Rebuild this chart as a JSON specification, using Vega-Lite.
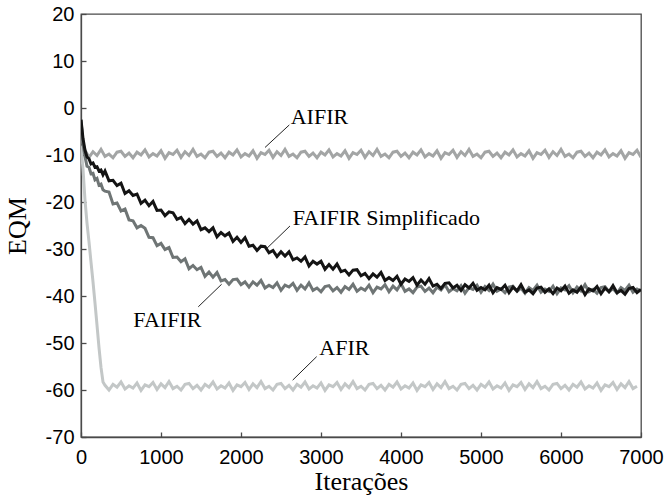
{
"$schema":"https://vega.github.io/schema/vega-lite/v6.json",
"width":560,"height":423,
"autosize":{"type":"none"},
"padding":{"left":81,"top":14,"right":23,"bottom":58},
"background":"white",
"config":{"view":{"stroke":"#4a4a4a","strokeWidth":1.3},
"axis":{"domainColor":"#4a4a4a","domainWidth":1.3,"tickColor":"#4a4a4a","tickWidth":1.3,"grid":false,"labelFlush":false,"labelOverlap":false,"labelColor":"#000","titleColor":"#000","labelFont":"Liberation Sans","labelFontSize":20,"titleFont":"Liberation Serif","titleFontSize":26,"titleFontWeight":"normal"}},
"datasets":{
"notes":[
{"txt":"AIFIR","t":2604,"v":-3.6,"t2":2300,"v2":-8.4,"lt":2621,"lv":-1.85},
{"txt":"FAIFIR Simplificado","t":2612,"v":-25.1,"t2":2321,"v2":-29.9,"lt":2646,"lv":-23.5},
{"txt":"FAIFIR","t":1466,"v":-42.3,"t2":1758,"v2":-37.5,"lt":654,"lv":-45.1},
{"txt":"AFIR","t":2946,"v":-52.9,"t2":2646,"v2":-57.9,"lt":2979,"lv":-51.1}
],
"curves":[
{"s":"AIFIR","t":0,"v":-3.0},{"s":"AIFIR","t":25,"v":-7.5},
{"s":"AIFIR","t":50,"v":-9.0},{"s":"AIFIR","t":100,"v":-10.5},{"s":"AIFIR","t":150,"v":-9.3},{"s":"AIFIR","t":200,"v":-10.1},{"s":"AIFIR","t":250,"v":-8.8},{"s":"AIFIR","t":300,"v":-10.3},{"s":"AIFIR","t":350,"v":-9.8},{"s":"AIFIR","t":400,"v":-10.6},{"s":"AIFIR","t":450,"v":-9.4},{"s":"AIFIR","t":500,"v":-9.2},{"s":"AIFIR","t":550,"v":-10.3},{"s":"AIFIR","t":600,"v":-9.6},{"s":"AIFIR","t":650,"v":-10.6},{"s":"AIFIR","t":700,"v":-9.4},{"s":"AIFIR","t":750,"v":-10.0},{"s":"AIFIR","t":800,"v":-8.9},{"s":"AIFIR","t":850,"v":-10.4},{"s":"AIFIR","t":900,"v":-9.7},{"s":"AIFIR","t":950,"v":-10.2},{"s":"AIFIR","t":1000,"v":-9.1},{"s":"AIFIR","t":1050,"v":-10.7},{"s":"AIFIR","t":1100,"v":-9.5},{"s":"AIFIR","t":1150,"v":-9.9},
{"s":"AIFIR","t":1200,"v":-9.0},{"s":"AIFIR","t":1250,"v":-10.5},{"s":"AIFIR","t":1300,"v":-9.3},{"s":"AIFIR","t":1350,"v":-10.1},{"s":"AIFIR","t":1400,"v":-8.8},{"s":"AIFIR","t":1450,"v":-10.3},{"s":"AIFIR","t":1500,"v":-9.8},{"s":"AIFIR","t":1550,"v":-10.6},{"s":"AIFIR","t":1600,"v":-9.4},{"s":"AIFIR","t":1650,"v":-9.2},{"s":"AIFIR","t":1700,"v":-10.3},{"s":"AIFIR","t":1750,"v":-9.6},{"s":"AIFIR","t":1800,"v":-10.6},{"s":"AIFIR","t":1850,"v":-9.4},{"s":"AIFIR","t":1900,"v":-10.0},{"s":"AIFIR","t":1950,"v":-8.9},{"s":"AIFIR","t":2000,"v":-10.4},{"s":"AIFIR","t":2050,"v":-9.7},{"s":"AIFIR","t":2100,"v":-10.2},{"s":"AIFIR","t":2150,"v":-9.1},{"s":"AIFIR","t":2200,"v":-10.7},{"s":"AIFIR","t":2250,"v":-9.5},{"s":"AIFIR","t":2300,"v":-9.9},
{"s":"AIFIR","t":2350,"v":-9.0},{"s":"AIFIR","t":2400,"v":-10.5},{"s":"AIFIR","t":2450,"v":-9.3},{"s":"AIFIR","t":2500,"v":-10.1},{"s":"AIFIR","t":2550,"v":-8.8},{"s":"AIFIR","t":2600,"v":-10.3},{"s":"AIFIR","t":2650,"v":-9.8},{"s":"AIFIR","t":2700,"v":-10.6},{"s":"AIFIR","t":2750,"v":-9.4},{"s":"AIFIR","t":2800,"v":-9.2},{"s":"AIFIR","t":2850,"v":-10.3},{"s":"AIFIR","t":2900,"v":-9.6},{"s":"AIFIR","t":2950,"v":-10.6},{"s":"AIFIR","t":3000,"v":-9.4},{"s":"AIFIR","t":3050,"v":-10.0},{"s":"AIFIR","t":3100,"v":-8.9},{"s":"AIFIR","t":3150,"v":-10.4},{"s":"AIFIR","t":3200,"v":-9.7},{"s":"AIFIR","t":3250,"v":-10.2},{"s":"AIFIR","t":3300,"v":-9.1},{"s":"AIFIR","t":3350,"v":-10.7},{"s":"AIFIR","t":3400,"v":-9.5},{"s":"AIFIR","t":3450,"v":-9.9},
{"s":"AIFIR","t":3500,"v":-9.0},{"s":"AIFIR","t":3550,"v":-10.5},{"s":"AIFIR","t":3600,"v":-9.3},{"s":"AIFIR","t":3650,"v":-10.1},{"s":"AIFIR","t":3700,"v":-8.8},{"s":"AIFIR","t":3750,"v":-10.3},{"s":"AIFIR","t":3800,"v":-9.8},{"s":"AIFIR","t":3850,"v":-10.6},{"s":"AIFIR","t":3900,"v":-9.4},{"s":"AIFIR","t":3950,"v":-9.2},{"s":"AIFIR","t":4000,"v":-10.3},{"s":"AIFIR","t":4050,"v":-9.6},{"s":"AIFIR","t":4100,"v":-10.6},{"s":"AIFIR","t":4150,"v":-9.4},{"s":"AIFIR","t":4200,"v":-10.0},{"s":"AIFIR","t":4250,"v":-8.9},{"s":"AIFIR","t":4300,"v":-10.4},{"s":"AIFIR","t":4350,"v":-9.7},{"s":"AIFIR","t":4400,"v":-10.2},{"s":"AIFIR","t":4450,"v":-9.1},{"s":"AIFIR","t":4500,"v":-10.7},{"s":"AIFIR","t":4550,"v":-9.5},{"s":"AIFIR","t":4600,"v":-9.9},
{"s":"AIFIR","t":4650,"v":-9.0},{"s":"AIFIR","t":4700,"v":-10.5},{"s":"AIFIR","t":4750,"v":-9.3},{"s":"AIFIR","t":4800,"v":-10.1},{"s":"AIFIR","t":4850,"v":-8.8},{"s":"AIFIR","t":4900,"v":-10.3},{"s":"AIFIR","t":4950,"v":-9.8},{"s":"AIFIR","t":5000,"v":-10.6},{"s":"AIFIR","t":5050,"v":-9.4},{"s":"AIFIR","t":5100,"v":-9.2},{"s":"AIFIR","t":5150,"v":-10.3},{"s":"AIFIR","t":5200,"v":-9.6},{"s":"AIFIR","t":5250,"v":-10.6},{"s":"AIFIR","t":5300,"v":-9.4},{"s":"AIFIR","t":5350,"v":-10.0},{"s":"AIFIR","t":5400,"v":-8.9},{"s":"AIFIR","t":5450,"v":-10.4},{"s":"AIFIR","t":5500,"v":-9.7},{"s":"AIFIR","t":5550,"v":-10.2},{"s":"AIFIR","t":5600,"v":-9.1},{"s":"AIFIR","t":5650,"v":-10.7},{"s":"AIFIR","t":5700,"v":-9.5},{"s":"AIFIR","t":5750,"v":-9.9},
{"s":"AIFIR","t":5800,"v":-9.0},{"s":"AIFIR","t":5850,"v":-10.5},{"s":"AIFIR","t":5900,"v":-9.3},{"s":"AIFIR","t":5950,"v":-10.1},{"s":"AIFIR","t":6000,"v":-8.8},{"s":"AIFIR","t":6050,"v":-10.3},{"s":"AIFIR","t":6100,"v":-9.8},{"s":"AIFIR","t":6150,"v":-10.6},{"s":"AIFIR","t":6200,"v":-9.4},{"s":"AIFIR","t":6250,"v":-9.2},{"s":"AIFIR","t":6300,"v":-10.3},{"s":"AIFIR","t":6350,"v":-9.6},{"s":"AIFIR","t":6400,"v":-10.6},{"s":"AIFIR","t":6450,"v":-9.4},{"s":"AIFIR","t":6500,"v":-10.0},{"s":"AIFIR","t":6550,"v":-8.9},{"s":"AIFIR","t":6600,"v":-10.4},{"s":"AIFIR","t":6650,"v":-9.7},{"s":"AIFIR","t":6700,"v":-10.2},{"s":"AIFIR","t":6750,"v":-9.1},{"s":"AIFIR","t":6800,"v":-10.7},{"s":"AIFIR","t":6850,"v":-9.5},{"s":"AIFIR","t":6900,"v":-9.9},
{"s":"AIFIR","t":6950,"v":-9.0},{"s":"AIFIR","t":7000,"v":-10.5},

{"s":"AFIR","t":0,"v":-8.0},{"s":"AFIR","t":25,"v":-13.0},{"s":"AFIR","t":50,"v":-19.6},{"s":"AFIR","t":75,"v":-24.5},{"s":"AFIR","t":100,"v":-28.5},{"s":"AFIR","t":125,"v":-32.8},{"s":"AFIR","t":150,"v":-37.0},{"s":"AFIR","t":175,"v":-41.5},{"s":"AFIR","t":200,"v":-46.2},{"s":"AFIR","t":225,"v":-51.0},{"s":"AFIR","t":250,"v":-55.2},{"s":"AFIR","t":275,"v":-58.3},
{"s":"AFIR","t":300,"v":-59.0},{"s":"AFIR","t":350,"v":-60.0},{"s":"AFIR","t":400,"v":-58.8},{"s":"AFIR","t":450,"v":-59.4},{"s":"AFIR","t":500,"v":-58.3},{"s":"AFIR","t":550,"v":-59.8},{"s":"AFIR","t":600,"v":-59.1},{"s":"AFIR","t":650,"v":-59.6},{"s":"AFIR","t":700,"v":-58.5},{"s":"AFIR","t":750,"v":-60.1},{"s":"AFIR","t":800,"v":-58.9},{"s":"AFIR","t":850,"v":-59.3},{"s":"AFIR","t":900,"v":-58.4},{"s":"AFIR","t":950,"v":-59.9},{"s":"AFIR","t":1000,"v":-58.7},{"s":"AFIR","t":1050,"v":-59.5},{"s":"AFIR","t":1100,"v":-58.2},{"s":"AFIR","t":1150,"v":-59.7},{"s":"AFIR","t":1200,"v":-59.2},{"s":"AFIR","t":1250,"v":-60.0},{"s":"AFIR","t":1300,"v":-58.8},
{"s":"AFIR","t":1350,"v":-58.6},{"s":"AFIR","t":1400,"v":-59.7},{"s":"AFIR","t":1450,"v":-59.0},{"s":"AFIR","t":1500,"v":-60.0},{"s":"AFIR","t":1550,"v":-58.8},{"s":"AFIR","t":1600,"v":-59.4},{"s":"AFIR","t":1650,"v":-58.3},{"s":"AFIR","t":1700,"v":-59.8},{"s":"AFIR","t":1750,"v":-59.1},{"s":"AFIR","t":1800,"v":-59.6},{"s":"AFIR","t":1850,"v":-58.5},{"s":"AFIR","t":1900,"v":-60.1},{"s":"AFIR","t":1950,"v":-58.9},{"s":"AFIR","t":2000,"v":-59.3},{"s":"AFIR","t":2050,"v":-58.4},{"s":"AFIR","t":2100,"v":-59.9},{"s":"AFIR","t":2150,"v":-58.7},{"s":"AFIR","t":2200,"v":-59.5},{"s":"AFIR","t":2250,"v":-58.2},{"s":"AFIR","t":2300,"v":-59.7},{"s":"AFIR","t":2350,"v":-59.2},{"s":"AFIR","t":2400,"v":-60.0},{"s":"AFIR","t":2450,"v":-58.8},
{"s":"AFIR","t":2500,"v":-58.6},{"s":"AFIR","t":2550,"v":-59.7},{"s":"AFIR","t":2600,"v":-59.0},{"s":"AFIR","t":2650,"v":-60.0},{"s":"AFIR","t":2700,"v":-58.8},{"s":"AFIR","t":2750,"v":-59.4},{"s":"AFIR","t":2800,"v":-58.3},{"s":"AFIR","t":2850,"v":-59.8},{"s":"AFIR","t":2900,"v":-59.1},{"s":"AFIR","t":2950,"v":-59.6},{"s":"AFIR","t":3000,"v":-58.5},{"s":"AFIR","t":3050,"v":-60.1},{"s":"AFIR","t":3100,"v":-58.9},{"s":"AFIR","t":3150,"v":-59.3},{"s":"AFIR","t":3200,"v":-58.4},{"s":"AFIR","t":3250,"v":-59.9},{"s":"AFIR","t":3300,"v":-58.7},{"s":"AFIR","t":3350,"v":-59.5},{"s":"AFIR","t":3400,"v":-58.2},{"s":"AFIR","t":3450,"v":-59.7},{"s":"AFIR","t":3500,"v":-59.2},{"s":"AFIR","t":3550,"v":-60.0},{"s":"AFIR","t":3600,"v":-58.8},
{"s":"AFIR","t":3650,"v":-58.6},{"s":"AFIR","t":3700,"v":-59.7},{"s":"AFIR","t":3750,"v":-59.0},{"s":"AFIR","t":3800,"v":-60.0},{"s":"AFIR","t":3850,"v":-58.8},{"s":"AFIR","t":3900,"v":-59.4},{"s":"AFIR","t":3950,"v":-58.3},{"s":"AFIR","t":4000,"v":-59.8},{"s":"AFIR","t":4050,"v":-59.1},{"s":"AFIR","t":4100,"v":-59.6},{"s":"AFIR","t":4150,"v":-58.5},{"s":"AFIR","t":4200,"v":-60.1},{"s":"AFIR","t":4250,"v":-58.9},{"s":"AFIR","t":4300,"v":-59.3},{"s":"AFIR","t":4350,"v":-58.4},{"s":"AFIR","t":4400,"v":-59.9},{"s":"AFIR","t":4450,"v":-58.7},{"s":"AFIR","t":4500,"v":-59.5},{"s":"AFIR","t":4550,"v":-58.2},{"s":"AFIR","t":4600,"v":-59.7},{"s":"AFIR","t":4650,"v":-59.2},{"s":"AFIR","t":4700,"v":-60.0},{"s":"AFIR","t":4750,"v":-58.8},
{"s":"AFIR","t":4800,"v":-58.6},{"s":"AFIR","t":4850,"v":-59.7},{"s":"AFIR","t":4900,"v":-59.0},{"s":"AFIR","t":4950,"v":-60.0},{"s":"AFIR","t":5000,"v":-58.8},{"s":"AFIR","t":5050,"v":-59.4},{"s":"AFIR","t":5100,"v":-58.3},{"s":"AFIR","t":5150,"v":-59.8},{"s":"AFIR","t":5200,"v":-59.1},{"s":"AFIR","t":5250,"v":-59.6},{"s":"AFIR","t":5300,"v":-58.5},{"s":"AFIR","t":5350,"v":-60.1},{"s":"AFIR","t":5400,"v":-58.9},{"s":"AFIR","t":5450,"v":-59.3},{"s":"AFIR","t":5500,"v":-58.4},{"s":"AFIR","t":5550,"v":-59.9},{"s":"AFIR","t":5600,"v":-58.7},{"s":"AFIR","t":5650,"v":-59.5},{"s":"AFIR","t":5700,"v":-58.2},{"s":"AFIR","t":5750,"v":-59.7},{"s":"AFIR","t":5800,"v":-59.2},{"s":"AFIR","t":5850,"v":-60.0},{"s":"AFIR","t":5900,"v":-58.8},
{"s":"AFIR","t":5950,"v":-58.6},{"s":"AFIR","t":6000,"v":-59.7},{"s":"AFIR","t":6050,"v":-59.0},{"s":"AFIR","t":6100,"v":-60.0},{"s":"AFIR","t":6150,"v":-58.8},{"s":"AFIR","t":6200,"v":-59.4},{"s":"AFIR","t":6250,"v":-58.3},{"s":"AFIR","t":6300,"v":-59.8},{"s":"AFIR","t":6350,"v":-59.1},{"s":"AFIR","t":6400,"v":-59.6},{"s":"AFIR","t":6450,"v":-58.5},{"s":"AFIR","t":6500,"v":-60.1},{"s":"AFIR","t":6550,"v":-58.9},{"s":"AFIR","t":6600,"v":-59.3},{"s":"AFIR","t":6650,"v":-58.4},{"s":"AFIR","t":6700,"v":-59.9},{"s":"AFIR","t":6750,"v":-58.7},{"s":"AFIR","t":6800,"v":-59.5},{"s":"AFIR","t":6850,"v":-58.2},{"s":"AFIR","t":6900,"v":-59.7},{"s":"AFIR","t":6950,"v":-59.2},

{"s":"FAIFIR","t":0,"v":-2.5},{"s":"FAIFIR","t":25,"v":-7.8},{"s":"FAIFIR","t":50,"v":-10.3},{"s":"FAIFIR","t":75,"v":-12.4},{"s":"FAIFIR","t":100,"v":-12.6},{"s":"FAIFIR","t":125,"v":-14.0},{"s":"FAIFIR","t":150,"v":-13.9},{"s":"FAIFIR","t":175,"v":-15.3},{"s":"FAIFIR","t":200,"v":-15.0},{"s":"FAIFIR","t":225,"v":-16.4},{"s":"FAIFIR","t":250,"v":-16.2},{"s":"FAIFIR","t":275,"v":-17.4},
{"s":"FAIFIR","t":300,"v":-17.7},{"s":"FAIFIR","t":350,"v":-17.9},{"s":"FAIFIR","t":400,"v":-20.4},{"s":"FAIFIR","t":450,"v":-20.2},{"s":"FAIFIR","t":500,"v":-21.9},{"s":"FAIFIR","t":550,"v":-21.5},{"s":"FAIFIR","t":600,"v":-23.8},{"s":"FAIFIR","t":650,"v":-24.0},{"s":"FAIFIR","t":700,"v":-25.5},{"s":"FAIFIR","t":750,"v":-25.0},{"s":"FAIFIR","t":800,"v":-25.6},{"s":"FAIFIR","t":850,"v":-27.5},{"s":"FAIFIR","t":900,"v":-27.6},{"s":"FAIFIR","t":950,"v":-29.3},{"s":"FAIFIR","t":1000,"v":-28.8},{"s":"FAIFIR","t":1050,"v":-30.1},{"s":"FAIFIR","t":1100,"v":-29.7},{"s":"FAIFIR","t":1150,"v":-31.8},{"s":"FAIFIR","t":1200,"v":-31.7},{"s":"FAIFIR","t":1250,"v":-32.7},{"s":"FAIFIR","t":1300,"v":-32.1},{"s":"FAIFIR","t":1350,"v":-34.2},{"s":"FAIFIR","t":1400,"v":-33.5},{"s":"FAIFIR","t":1450,"v":-34.4},{"s":"FAIFIR","t":1500,"v":-33.9},{"s":"FAIFIR","t":1550,"v":-35.8},{"s":"FAIFIR","t":1600,"v":-34.9},{"s":"FAIFIR","t":1650,"v":-36.0},{"s":"FAIFIR","t":1700,"v":-35.0},{"s":"FAIFIR","t":1750,"v":-36.8},{"s":"FAIFIR","t":1800,"v":-36.5},{"s":"FAIFIR","t":1850,"v":-37.5},{"s":"FAIFIR","t":1900,"v":-36.5},{"s":"FAIFIR","t":1950,"v":-36.4},{"s":"FAIFIR","t":2000,"v":-37.6},{"s":"FAIFIR","t":2050,"v":-37.0},{"s":"FAIFIR","t":2100,"v":-38.1},{"s":"FAIFIR","t":2150,"v":-37.0},{"s":"FAIFIR","t":2200,"v":-37.7},{"s":"FAIFIR","t":2250,"v":-36.7},{"s":"FAIFIR","t":2300,"v":-38.3},{"s":"FAIFIR","t":2350,"v":-37.7},{"s":"FAIFIR","t":2400,"v":-38.2},{"s":"FAIFIR","t":2450,"v":-37.2},{"s":"FAIFIR","t":2500,"v":-38.8},{"s":"FAIFIR","t":2550,"v":-37.7},{"s":"FAIFIR","t":2600,"v":-38.1},{"s":"FAIFIR","t":2650,"v":-37.3},{"s":"FAIFIR","t":2700,"v":-38.8},{"s":"FAIFIR","t":2750,"v":-37.7},{"s":"FAIFIR","t":2800,"v":-38.5},{"s":"FAIFIR","t":2850,"v":-37.2},{"s":"FAIFIR","t":2900,"v":-38.8},{"s":"FAIFIR","t":2950,"v":-38.3},{"s":"FAIFIR","t":3000,"v":-39.1},{"s":"FAIFIR","t":3050,"v":-38.0},{"s":"FAIFIR","t":3100,"v":-37.8},{"s":"FAIFIR","t":3150,"v":-38.9},{"s":"FAIFIR","t":3200,"v":-38.2},{"s":"FAIFIR","t":3250,"v":-39.2},{"s":"FAIFIR","t":3300,"v":-38.0},{"s":"FAIFIR","t":3350,"v":-38.6},{"s":"FAIFIR","t":3400,"v":-37.5},{"s":"FAIFIR","t":3450,"v":-39.0},{"s":"FAIFIR","t":3500,"v":-38.3},{"s":"FAIFIR","t":3550,"v":-38.8},{"s":"FAIFIR","t":3600,"v":-37.7},{"s":"FAIFIR","t":3650,"v":-39.3},{"s":"FAIFIR","t":3700,"v":-38.1},{"s":"FAIFIR","t":3750,"v":-38.5},{"s":"FAIFIR","t":3800,"v":-37.6},{"s":"FAIFIR","t":3850,"v":-39.1},{"s":"FAIFIR","t":3900,"v":-37.9},{"s":"FAIFIR","t":3950,"v":-38.7},{"s":"FAIFIR","t":4000,"v":-37.4},{"s":"FAIFIR","t":4050,"v":-39.0},{"s":"FAIFIR","t":4100,"v":-38.5},{"s":"FAIFIR","t":4150,"v":-39.3},{"s":"FAIFIR","t":4200,"v":-38.1},{"s":"FAIFIR","t":4250,"v":-37.9},{"s":"FAIFIR","t":4300,"v":-39.0},{"s":"FAIFIR","t":4350,"v":-38.3},{"s":"FAIFIR","t":4400,"v":-39.3},{"s":"FAIFIR","t":4450,"v":-38.1},{"s":"FAIFIR","t":4500,"v":-38.7},{"s":"FAIFIR","t":4550,"v":-37.6},{"s":"FAIFIR","t":4600,"v":-39.1},{"s":"FAIFIR","t":4650,"v":-38.4},{"s":"FAIFIR","t":4700,"v":-38.9},{"s":"FAIFIR","t":4750,"v":-37.8},{"s":"FAIFIR","t":4800,"v":-39.4},{"s":"FAIFIR","t":4850,"v":-38.2},{"s":"FAIFIR","t":4900,"v":-38.6},{"s":"FAIFIR","t":4950,"v":-37.7},{"s":"FAIFIR","t":5000,"v":-39.2},{"s":"FAIFIR","t":5050,"v":-38.0},{"s":"FAIFIR","t":5100,"v":-38.8},{"s":"FAIFIR","t":5150,"v":-37.5},{"s":"FAIFIR","t":5200,"v":-39.0},{"s":"FAIFIR","t":5250,"v":-38.5},{"s":"FAIFIR","t":5300,"v":-39.3},{"s":"FAIFIR","t":5350,"v":-38.1},{"s":"FAIFIR","t":5400,"v":-37.9},{"s":"FAIFIR","t":5450,"v":-39.0},{"s":"FAIFIR","t":5500,"v":-38.3},{"s":"FAIFIR","t":5550,"v":-39.4},{"s":"FAIFIR","t":5600,"v":-38.2},{"s":"FAIFIR","t":5650,"v":-38.8},{"s":"FAIFIR","t":5700,"v":-37.7},{"s":"FAIFIR","t":5750,"v":-39.2},{"s":"FAIFIR","t":5800,"v":-38.5},{"s":"FAIFIR","t":5850,"v":-39.0},{"s":"FAIFIR","t":5900,"v":-37.9},{"s":"FAIFIR","t":5950,"v":-39.5},{"s":"FAIFIR","t":6000,"v":-38.3},{"s":"FAIFIR","t":6050,"v":-38.7},{"s":"FAIFIR","t":6100,"v":-37.8},{"s":"FAIFIR","t":6150,"v":-39.3},{"s":"FAIFIR","t":6200,"v":-38.1},{"s":"FAIFIR","t":6250,"v":-38.9},{"s":"FAIFIR","t":6300,"v":-37.6},{"s":"FAIFIR","t":6350,"v":-39.1},{"s":"FAIFIR","t":6400,"v":-38.6},{"s":"FAIFIR","t":6450,"v":-39.4},{"s":"FAIFIR","t":6500,"v":-38.2},{"s":"FAIFIR","t":6550,"v":-38.0},{"s":"FAIFIR","t":6600,"v":-39.1},{"s":"FAIFIR","t":6650,"v":-38.4},{"s":"FAIFIR","t":6700,"v":-39.4},{"s":"FAIFIR","t":6750,"v":-38.2},{"s":"FAIFIR","t":6800,"v":-38.8},{"s":"FAIFIR","t":6850,"v":-37.7},{"s":"FAIFIR","t":6900,"v":-39.2},{"s":"FAIFIR","t":6950,"v":-38.5},{"s":"FAIFIR","t":7000,"v":-39.0},

{"s":"FAIFIRS","t":0,"v":-2.5},{"s":"FAIFIRS","t":25,"v":-6.5},{"s":"FAIFIRS","t":50,"v":-9.0},{"s":"FAIFIRS","t":75,"v":-10.4},{"s":"FAIFIRS","t":100,"v":-10.8},{"s":"FAIFIRS","t":125,"v":-11.9},{"s":"FAIFIRS","t":150,"v":-11.7},{"s":"FAIFIRS","t":175,"v":-12.6},{"s":"FAIFIRS","t":200,"v":-12.5},{"s":"FAIFIRS","t":225,"v":-13.4},{"s":"FAIFIRS","t":250,"v":-13.2},{"s":"FAIFIRS","t":275,"v":-14.2},
{"s":"FAIFIRS","t":300,"v":-13.4},{"s":"FAIFIRS","t":350,"v":-15.5},{"s":"FAIFIRS","t":400,"v":-15.4},{"s":"FAIFIRS","t":450,"v":-16.5},{"s":"FAIFIRS","t":500,"v":-16.0},{"s":"FAIFIRS","t":550,"v":-18.2},{"s":"FAIFIRS","t":600,"v":-17.6},{"s":"FAIFIRS","t":650,"v":-18.6},{"s":"FAIFIRS","t":700,"v":-18.3},{"s":"FAIFIRS","t":750,"v":-20.3},{"s":"FAIFIRS","t":800,"v":-19.6},{"s":"FAIFIRS","t":850,"v":-20.8},{"s":"FAIFIRS","t":900,"v":-19.9},{"s":"FAIFIRS","t":950,"v":-21.8},{"s":"FAIFIRS","t":1000,"v":-21.7},{"s":"FAIFIRS","t":1050,"v":-22.9},{"s":"FAIFIRS","t":1100,"v":-22.1},{"s":"FAIFIRS","t":1150,"v":-22.3},{"s":"FAIFIRS","t":1200,"v":-23.7},{"s":"FAIFIRS","t":1250,"v":-23.3},{"s":"FAIFIRS","t":1300,"v":-24.6},{"s":"FAIFIRS","t":1350,"v":-23.7},{"s":"FAIFIRS","t":1400,"v":-24.7},{"s":"FAIFIRS","t":1450,"v":-24.0},{"s":"FAIFIRS","t":1500,"v":-25.9},{"s":"FAIFIRS","t":1550,"v":-25.5},{"s":"FAIFIRS","t":1600,"v":-26.3},{"s":"FAIFIRS","t":1650,"v":-25.5},{"s":"FAIFIRS","t":1700,"v":-27.4},{"s":"FAIFIRS","t":1750,"v":-26.5},{"s":"FAIFIRS","t":1800,"v":-27.2},{"s":"FAIFIRS","t":1850,"v":-26.6},{"s":"FAIFIRS","t":1900,"v":-28.4},{"s":"FAIFIRS","t":1950,"v":-27.5},{"s":"FAIFIRS","t":2000,"v":-28.6},{"s":"FAIFIRS","t":2050,"v":-27.6},{"s":"FAIFIRS","t":2100,"v":-29.4},{"s":"FAIFIRS","t":2150,"v":-29.2},{"s":"FAIFIRS","t":2200,"v":-30.3},{"s":"FAIFIRS","t":2250,"v":-29.4},{"s":"FAIFIRS","t":2300,"v":-29.5},{"s":"FAIFIRS","t":2350,"v":-30.8},{"s":"FAIFIRS","t":2400,"v":-30.3},{"s":"FAIFIRS","t":2450,"v":-31.6},{"s":"FAIFIRS","t":2500,"v":-30.6},{"s":"FAIFIRS","t":2550,"v":-31.5},{"s":"FAIFIRS","t":2600,"v":-30.6},{"s":"FAIFIRS","t":2650,"v":-32.3},{"s":"FAIFIRS","t":2700,"v":-31.9},{"s":"FAIFIRS","t":2750,"v":-32.6},{"s":"FAIFIRS","t":2800,"v":-31.7},{"s":"FAIFIRS","t":2850,"v":-33.6},{"s":"FAIFIRS","t":2900,"v":-32.6},{"s":"FAIFIRS","t":2950,"v":-33.2},{"s":"FAIFIRS","t":3000,"v":-32.6},{"s":"FAIFIRS","t":3050,"v":-34.3},{"s":"FAIFIRS","t":3100,"v":-33.3},{"s":"FAIFIRS","t":3150,"v":-34.3},{"s":"FAIFIRS","t":3200,"v":-33.2},{"s":"FAIFIRS","t":3250,"v":-34.8},{"s":"FAIFIRS","t":3300,"v":-34.5},{"s":"FAIFIRS","t":3350,"v":-35.5},{"s":"FAIFIRS","t":3400,"v":-34.5},{"s":"FAIFIRS","t":3450,"v":-34.4},{"s":"FAIFIRS","t":3500,"v":-35.7},{"s":"FAIFIRS","t":3550,"v":-35.2},{"s":"FAIFIRS","t":3600,"v":-36.3},{"s":"FAIFIRS","t":3650,"v":-35.3},{"s":"FAIFIRS","t":3700,"v":-36.0},{"s":"FAIFIRS","t":3750,"v":-35.0},{"s":"FAIFIRS","t":3800,"v":-36.7},{"s":"FAIFIRS","t":3850,"v":-36.1},{"s":"FAIFIRS","t":3900,"v":-36.7},{"s":"FAIFIRS","t":3950,"v":-35.8},{"s":"FAIFIRS","t":4000,"v":-37.5},{"s":"FAIFIRS","t":4050,"v":-36.4},{"s":"FAIFIRS","t":4100,"v":-36.9},{"s":"FAIFIRS","t":4150,"v":-36.1},{"s":"FAIFIRS","t":4200,"v":-37.7},{"s":"FAIFIRS","t":4250,"v":-36.6},{"s":"FAIFIRS","t":4300,"v":-37.5},{"s":"FAIFIRS","t":4350,"v":-36.3},{"s":"FAIFIRS","t":4400,"v":-37.9},{"s":"FAIFIRS","t":4450,"v":-37.5},{"s":"FAIFIRS","t":4500,"v":-38.4},{"s":"FAIFIRS","t":4550,"v":-37.3},{"s":"FAIFIRS","t":4600,"v":-37.2},{"s":"FAIFIRS","t":4650,"v":-38.3},{"s":"FAIFIRS","t":4700,"v":-37.7},{"s":"FAIFIRS","t":4750,"v":-38.8},{"s":"FAIFIRS","t":4800,"v":-37.6},{"s":"FAIFIRS","t":4850,"v":-38.3},{"s":"FAIFIRS","t":4900,"v":-37.3},{"s":"FAIFIRS","t":4950,"v":-38.8},{"s":"FAIFIRS","t":5000,"v":-38.2},{"s":"FAIFIRS","t":5050,"v":-38.7},{"s":"FAIFIRS","t":5100,"v":-37.7},{"s":"FAIFIRS","t":5150,"v":-39.3},{"s":"FAIFIRS","t":5200,"v":-38.2},{"s":"FAIFIRS","t":5250,"v":-38.6},{"s":"FAIFIRS","t":5300,"v":-37.7},{"s":"FAIFIRS","t":5350,"v":-39.3},{"s":"FAIFIRS","t":5400,"v":-38.1},{"s":"FAIFIRS","t":5450,"v":-38.9},{"s":"FAIFIRS","t":5500,"v":-37.6},{"s":"FAIFIRS","t":5550,"v":-39.2},{"s":"FAIFIRS","t":5600,"v":-38.7},{"s":"FAIFIRS","t":5650,"v":-39.5},{"s":"FAIFIRS","t":5700,"v":-38.3},{"s":"FAIFIRS","t":5750,"v":-38.1},{"s":"FAIFIRS","t":5800,"v":-39.2},{"s":"FAIFIRS","t":5850,"v":-38.5},{"s":"FAIFIRS","t":5900,"v":-39.5},{"s":"FAIFIRS","t":5950,"v":-38.3},{"s":"FAIFIRS","t":6000,"v":-38.9},{"s":"FAIFIRS","t":6050,"v":-37.9},{"s":"FAIFIRS","t":6100,"v":-39.4},{"s":"FAIFIRS","t":6150,"v":-38.7},{"s":"FAIFIRS","t":6200,"v":-39.2},{"s":"FAIFIRS","t":6250,"v":-38.1},{"s":"FAIFIRS","t":6300,"v":-39.7},{"s":"FAIFIRS","t":6350,"v":-38.5},{"s":"FAIFIRS","t":6400,"v":-38.9},{"s":"FAIFIRS","t":6450,"v":-38.0},{"s":"FAIFIRS","t":6500,"v":-39.5},{"s":"FAIFIRS","t":6550,"v":-38.3},{"s":"FAIFIRS","t":6600,"v":-39.1},{"s":"FAIFIRS","t":6650,"v":-37.8},{"s":"FAIFIRS","t":6700,"v":-39.3},{"s":"FAIFIRS","t":6750,"v":-38.8},{"s":"FAIFIRS","t":6800,"v":-39.6},{"s":"FAIFIRS","t":6850,"v":-38.4},{"s":"FAIFIRS","t":6900,"v":-38.2},{"s":"FAIFIRS","t":6950,"v":-39.3},{"s":"FAIFIRS","t":7000,"v":-38.6}
]},
"layer":[
{"data":{"name":"curves"},"transform":[{"filter":"datum.s == 'AIFIR'"}],
 "mark":{"type":"line","color":"#a3a5a5","strokeWidth":3,"clip":true},
 "encoding":{
  "x":{"field":"t","type":"quantitative","scale":{"domain":[0,7000],"nice":false},
   "axis":{"values":[0,1000,2000,3000,4000,5000,6000,7000],"labelExpr":"'' + datum.value","title":"Iterações","tickSize":-5,"labelPadding":15,"titlePadding":1,"labelFlush":false}},
  "y":{"field":"v","type":"quantitative","scale":{"domain":[-70,20],"nice":false},
   "axis":{"values":[-70,-60,-50,-40,-30,-20,-10,0,10,20],"labelExpr":"'' + datum.value","title":"EQM","tickSize":-5,"labelPadding":12,"titlePadding":15,"labelFlush":false}}}},
{"data":{"name":"curves"},"transform":[{"filter":"datum.s == 'AFIR'"}],
 "mark":{"type":"line","color":"#c3c7c7","strokeWidth":3,"clip":true},
 "encoding":{"x":{"field":"t","type":"quantitative"},"y":{"field":"v","type":"quantitative"}}},
{"data":{"name":"curves"},"transform":[{"filter":"datum.s == 'FAIFIR'"}],
 "mark":{"type":"line","color":"#6f7575","strokeWidth":3,"clip":true},
 "encoding":{"x":{"field":"t","type":"quantitative"},"y":{"field":"v","type":"quantitative"}}},
{"data":{"name":"curves"},"transform":[{"filter":"datum.s == 'FAIFIRS'"}],
 "mark":{"type":"line","color":"#141414","strokeWidth":3,"clip":true},
 "encoding":{"x":{"field":"t","type":"quantitative"},"y":{"field":"v","type":"quantitative"}}},
{"data":{"name":"notes"},
 "mark":{"type":"rule","color":"#222","strokeWidth":1},
 "encoding":{"x":{"field":"t","type":"quantitative"},"y":{"field":"v","type":"quantitative"},"x2":{"field":"t2"},"y2":{"field":"v2"}}},
{"data":{"name":"notes"},
 "mark":{"type":"text","align":"left","baseline":"middle","font":"Liberation Serif","fontSize":22,"color":"#000"},
 "encoding":{"x":{"field":"lt","type":"quantitative"},"y":{"field":"lv","type":"quantitative"},"text":{"field":"txt"}}}
]
}
